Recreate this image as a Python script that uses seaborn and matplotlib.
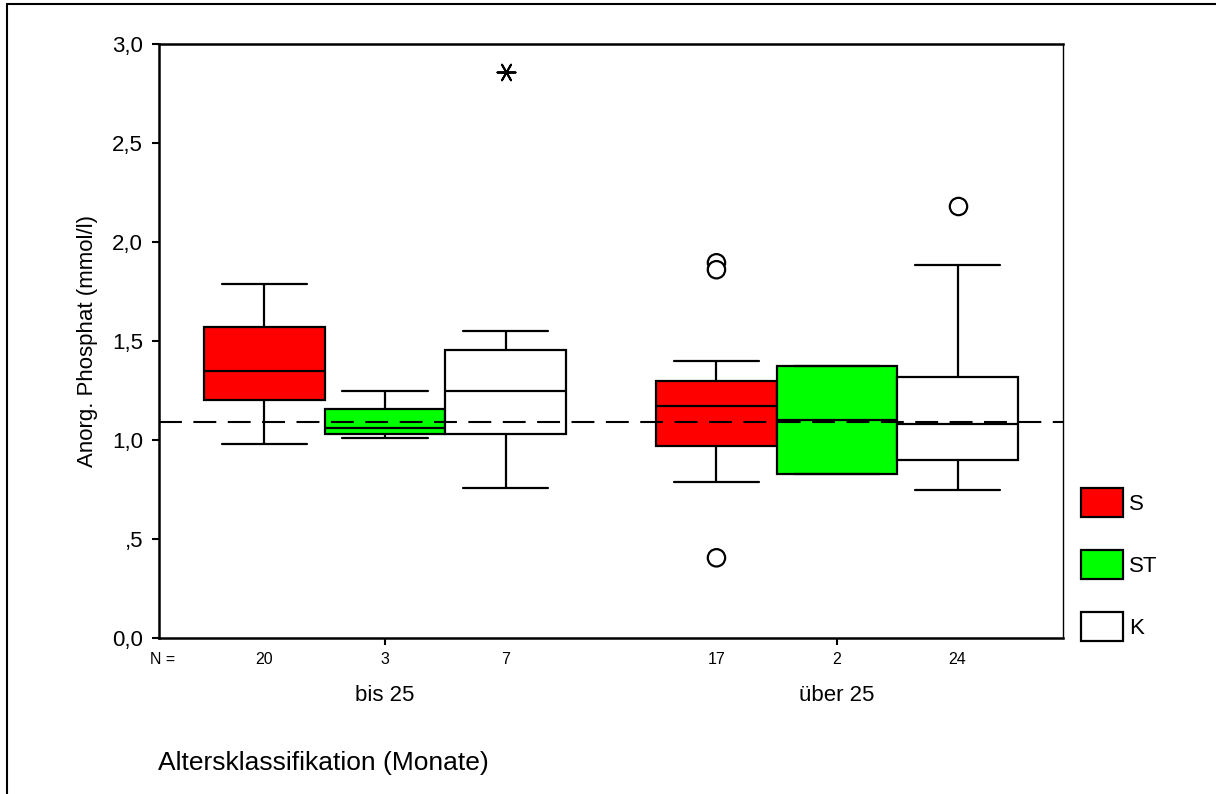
import numpy as np
import pandas as pd
import matplotlib
matplotlib.use("Agg")
import matplotlib.pyplot as plt
from matplotlib.lines import Line2D
import seaborn as sns

# ---------------- data ----------------
groups = ["bis 25", "bis 25", "bis 25", "über 25", "über 25", "über 25"]
types = ["S", "ST", "K", "S", "ST", "K"]
whisker_low = [0.98, 1.01, 0.76, 0.79, 0.83, 0.75]
q1 = [1.20, 1.03, 1.03, 0.97, 0.83, 0.90]
median = [1.35, 1.06, 1.25, 1.17, 1.10, 1.08]
q3 = [1.57, 1.155, 1.455, 1.30, 1.375, 1.32]
whisker_high = [1.79, 1.25, 1.55, 1.40, 1.375, 1.885]
n_counts = [20, 3, 7, 17, 2, 24]

outlier_groups = ["über 25", "über 25", "über 25", "über 25"]
outlier_types = ["S", "S", "S", "K"]
outlier_values = [1.895, 1.86, 0.405, 2.18]

extreme_groups = ["bis 25"]
extreme_types = ["K"]
extreme_values = [2.86]

reference_value = 1.09

group_order = ["bis 25", "über 25"]
type_order = ["S", "ST", "K"]
type_colors = {"S": "#ff0000", "ST": "#00ff00", "K": "#ffffff"}
ytick_values = [0.0, 0.5, 1.0, 1.5, 2.0, 2.5, 3.0]
ytick_labels = ["0,0", ",5", "1,0", "1,5", "2,0", "2,5", "3,0"]

# --------- long-form table: five summary values per box ---------
rows = []
for g, t, a, b, c, d, e in zip(groups, types, whisker_low, q1, median, q3, whisker_high):
    for v in (a, b, c, d, e):
        rows.append({"group": g, "type": t, "value": v})
df = pd.DataFrame(rows)
df_out = pd.DataFrame({"group": outlier_groups, "type": outlier_types, "value": outlier_values})
df_ext = pd.DataFrame({"group": extreme_groups, "type": extreme_types, "value": extreme_values})

# ---------------- figure ----------------
sns.set_theme(style="white")
plt.rcParams["font.family"] = ["Liberation Sans", "DejaVu Sans"]
plt.rcParams["text.color"] = "black"
plt.rcParams["axes.labelcolor"] = "black"
plt.rcParams["xtick.color"] = "black"
plt.rcParams["ytick.color"] = "black"

fig = plt.figure(figsize=(12.16, 7.94), dpi=100)
W, H = 1216, 794
ax = fig.add_axes([159 / W, 1 - 638 / H, (1063 - 159) / W, (638 - 44) / H])

sns.boxplot(
    data=df, x="group", y="value", hue="type",
    order=group_order, hue_order=type_order, palette=type_colors,
    saturation=1, width=0.8, gap=0, dodge=True, whis=(0, 100),
    showfliers=False, linecolor="black", linewidth=1.6,
    capwidths=0.19, ax=ax,
)

sns.stripplot(
    data=df_out, x="group", y="value", hue="type",
    order=group_order, hue_order=type_order,
    palette={"S": "white", "ST": "white", "K": "white"},
    dodge=True, jitter=False, size=12.5, marker="o",
    edgecolor="black", linewidth=1.6, legend=False, zorder=4, ax=ax,
)
sns.stripplot(
    data=df_ext, x="group", y="value", hue="type",
    order=group_order, hue_order=type_order,
    palette={"S": "black", "ST": "black", "K": "black"},
    dodge=True, jitter=False, size=13, marker=(6, 2, 90),
    linewidth=1.4, legend=False, zorder=4, ax=ax,
)

ax.axhline(reference_value, color="black", lw=1.5, ls=(0, (11, 5.5)), zorder=5)

ax.set_xlim(-0.5, 1.5)
ax.set_ylim(0, 3.0)
ax.set_yticks(ytick_values)
ax.set_yticklabels(ytick_labels, fontsize=16)
ax.set_xticks([0, 1])
ax.set_xticklabels(group_order, fontsize=16)
ax.tick_params(axis="y", direction="out", length=5, width=1.5, pad=6.5, left=True)
ax.tick_params(axis="x", direction="out", length=5, width=1.5, pad=29, bottom=True)
ax.set_xlabel("")
ax.set_ylabel("Anorg. Phosphat (mmol/l)", fontsize=16, labelpad=10)

for side in ["left", "bottom", "top"]:
    ax.spines[side].set_linewidth(1.8)
    ax.spines[side].set_color("black")
ax.spines["right"].set_linewidth(1.0)
ax.spines["right"].set_color("black")

# N counts beneath each box
offsets = [-0.8 / 3, 0.0, 0.8 / 3]
trans = ax.get_xaxis_transform()
for i, (g, t, n) in enumerate(zip(groups, types, n_counts)):
    xpos = group_order.index(g) + offsets[type_order.index(t)]
    ax.text(xpos, -21 / 594, str(n), transform=trans, ha="center", va="center", fontsize=11.5)
ax.text(0.004, -21 / 594, "N =", transform=ax.transAxes, ha="center", va="center", fontsize=11.5)

# x title
fig.text(158 / W, 1 - 763 / H, "Altersklassifikation (Monate)", ha="left", va="center", fontsize=19)

# legend
sns.move_legend(
    ax, "upper left", bbox_to_anchor=((1081 - 159) / 904, (638 - 488) / 594),
    frameon=False, title=None, fontsize=16, borderpad=0, borderaxespad=0,
    handlelength=1.9, handleheight=1.63, labelspacing=1.49, handletextpad=0.25,
)
for h in ax.get_legend().legend_handles:
    h.set_edgecolor("black")
    h.set_linewidth(1.6)

# outer frame (top and left)
fig.add_artist(Line2D([7 / W, 7 / W], [0, 1 - 4 / H], transform=fig.transFigure, color="black", lw=1.5))
fig.add_artist(Line2D([7 / W, 1], [1 - 4 / H, 1 - 4 / H], transform=fig.transFigure, color="black", lw=1.5))

fig.savefig("out.png", dpi=100, facecolor="white")
